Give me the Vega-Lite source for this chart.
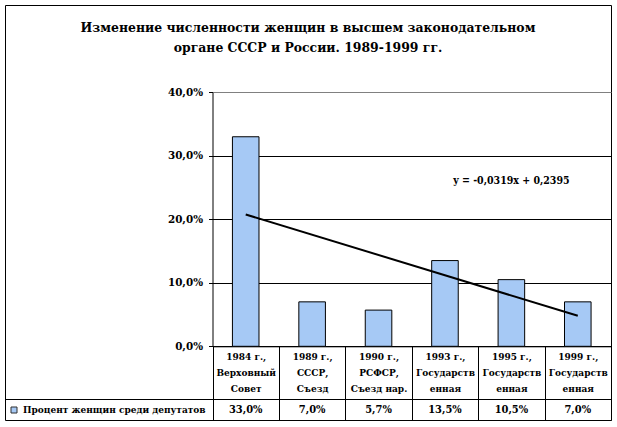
{
  "$schema": "https://vega.github.io/schema/vega-lite/v6.json",
  "width": 606,
  "height": 415,
  "autosize": {"type": "none"},
  "padding": {"left": 5, "top": 5, "right": 6, "bottom": 7},
  "background": "white",
  "title": {
    "text": ["Изменение численности женщин в высшем законодательном", "органе СССР и России. 1989-1999 гг."],
    "font": "DejaVu Serif Condensed",
    "fontSize": 13.8,
    "fontWeight": "bold",
    "lineHeight": 20,
    "anchor": "middle",
    "frame": "group",
    "offset": -50,
    "color": "black"
  },
  "datasets": {
    "main": [
      {"cat": "1984 г.,|Верховный|Совет", "value": 0.33, "row": "v", "series": "Процент женщин среди депутатов"},
      {"cat": "1989 г.,|СССР,|Съезд", "value": 0.07, "row": "v", "series": "Процент женщин среди депутатов"},
      {"cat": "1990 г.,|РСФСР,|Съезд нар.", "value": 0.057, "row": "v", "series": "Процент женщин среди депутатов"},
      {"cat": "1993 г.,|Государств|енная", "value": 0.135, "row": "v", "series": "Процент женщин среди депутатов"},
      {"cat": "1995 г.,|Государств|енная", "value": 0.105, "row": "v", "series": "Процент женщин среди депутатов"},
      {"cat": "1999 г.,|Государств|енная", "value": 0.07, "row": "v", "series": "Процент женщин среди депутатов"}
    ],
    "trend": [
      {"cat": "1984 г.,|Верховный|Совет", "trend": 0.2076},
      {"cat": "1999 г.,|Государств|енная", "trend": 0.0481}
    ],
    "note": [
      {"cat": "1995 г.,|Государств|енная", "y": 0.26, "label": "y = -0,0319x + 0,2395"}
    ]
  },
  "layer": [
    {
      "layer": [
        {
          "data": {"name": "main"},
          "mark": {"type": "bar", "width": {"band": 0.4}, "stroke": "black", "strokeWidth": 1},
          "encoding": {
            "x": {
              "field": "cat", "type": "nominal", "sort": null,
              "scale": {
                "domain": ["1984 г.,|Верховный|Совет", "1989 г.,|СССР,|Съезд", "1990 г.,|РСФСР,|Съезд нар.", "1993 г.,|Государств|енная", "1995 г.,|Государств|енная", "1999 г.,|Государств|енная"],
                "range": [207.5, 606], "paddingInner": 0, "paddingOuter": 0
              },
              "axis": {
                "title": null, "orient": "bottom", "offset": -73.7, "tickBand": "extent",
                "tickSize": 73.7, "tickColor": "black", "domainColor": "black",
                "labelExpr": "split(datum.label, '|')", "labelAngle": 0, "labelBaseline": "top",
                "labelLineHeight": 16, "labelPadding": -69, "grid": false, "labelOverlap": false,
                "labelFontSize": 10
              }
            },
            "y": {
              "field": "value", "type": "quantitative",
              "scale": {"domain": [0, 0.4], "range": [341.3, 87.3], "nice": false},
              "axis": {
                "title": null, "offset": -207.5, "values": [0, 0.1, 0.2, 0.3, 0.4], "format": ".1%",
                "tickSize": 4, "tickColor": "black", "domainColor": "black", "labelPadding": 6,
                "grid": true, "gridOpacity": 1, "labelFontSize": 11.5,
                "gridColor": {"condition": {"test": "datum.value > 0.35", "value": "#808080"}, "value": "black"}
              }
            },
            "color": {
              "field": "series", "type": "nominal",
              "scale": {"range": ["#a6c9f5"]},
              "legend": {
                "title": null, "orient": "none", "legendX": 4, "legendY": 400,
                "symbolType": "square", "symbolSize": 36, "symbolStrokeColor": "#303030",
                "symbolStrokeWidth": 1, "symbolFillColor": "#a6c9f5", "symbolOpacity": 1,
                "labelFont": "DejaVu Serif Condensed", "labelFontWeight": "bold", "labelFontSize": 10,
                "labelColor": "black", "labelOffset": 4, "labelLimit": 400, "padding": 0
              }
            }
          }
        },
        {
          "data": {"name": "trend"},
          "mark": {"type": "line", "color": "black", "strokeWidth": 2},
          "encoding": {
            "x": {"field": "cat", "type": "nominal"},
            "y": {"field": "trend", "type": "quantitative"}
          }
        },
        {
          "data": {"name": "note"},
          "mark": {"type": "text", "font": "DejaVu Serif Condensed", "fontWeight": "bold", "fontSize": 10.5, "color": "black"},
          "encoding": {
            "x": {"field": "cat", "type": "nominal"},
            "y": {"field": "y", "type": "quantitative"},
            "text": {"field": "label"}
          }
        }
      ]
    },
    {
      "data": {"name": "main"},
      "layer": [
        {
          "mark": {"type": "text", "font": "DejaVu Serif Condensed", "fontWeight": "bold", "fontSize": 11, "color": "black"},
          "encoding": {
            "x": {"field": "cat", "type": "nominal"},
            "y": {"field": "row", "type": "nominal", "scale": {"type": "band", "range": [394.5, 415], "paddingInner": 0, "paddingOuter": 0}, "axis": null},
            "text": {"field": "value", "type": "quantitative", "format": ".1%"}
          }
        },
        {
          "mark": {"type": "rule", "color": "black", "strokeWidth": 1},
          "encoding": {
            "y": {"field": "row", "type": "nominal", "bandPosition": 0, "axis": null}
          }
        }
      ]
    }
  ],
  "resolve": {"scale": {"y": "independent"}},
  "config": {
    "font": "DejaVu Serif Condensed",
    "view": {"stroke": "black", "strokeWidth": 1},
    "locale": {"number": {"decimal": ",", "thousands": " ", "grouping": [3], "currency": ["", ""]}},
    "axis": {
      "labelFont": "DejaVu Serif Condensed", "labelFontWeight": "bold", "labelFontSize": 11, "labelColor": "black"
    }
  }
}
